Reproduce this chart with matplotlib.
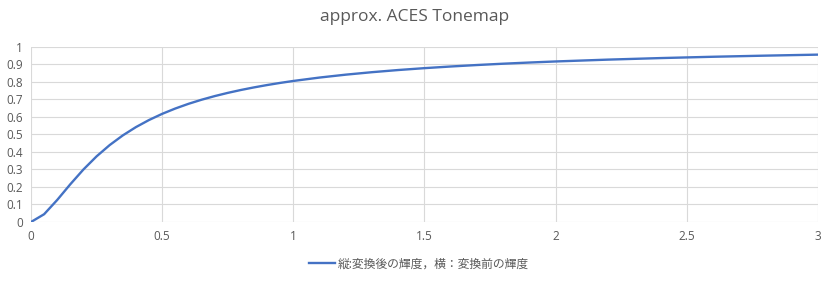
import matplotlib as mpl
mpl.use('Agg')
import matplotlib.pyplot as plt
import matplotlib.ticker as tick

# 入力輝度 (横) と変換後の輝度 (縦)、グラフから読み取り
x_in = [0.0, 0.05, 0.1, 0.15, 0.2, 0.25, 0.3, 0.35, 0.4, 0.45, 0.5,
        0.55, 0.6, 0.65, 0.7, 0.75, 0.8, 0.85, 0.9, 0.95, 1.0,
        1.1, 1.2, 1.3, 1.4, 1.5, 1.6, 1.7, 1.8, 1.9, 2.0,
        2.2, 2.4, 2.6, 2.8, 3.0]
y_out = [0.0, 0.0443, 0.1258, 0.2153, 0.2995, 0.3741, 0.4385, 0.4936, 0.5408, 0.5813, 0.6163,
         0.6467, 0.6733, 0.6967, 0.7174, 0.7358, 0.7523, 0.7671, 0.7805, 0.7927, 0.8038,
         0.8232, 0.8397, 0.8538, 0.8661, 0.8768, 0.8862, 0.8946, 0.9021, 0.9088, 0.9149,
         0.9254, 0.9342, 0.9417, 0.9481, 0.9538]
x_ticks = [0, 0.5, 1, 1.5, 2, 2.5, 3]
y_ticks = [0, 0.1, 0.2, 0.3, 0.4, 0.5, 0.6, 0.7, 0.8, 0.9, 1]
series_label = '縦:変換後の輝度，横：変換前の輝度'
title = 'approx. ACES Tonemap'

plt.rcParams['font.family'] = ['Open Sans', 'Noto Sans CJK JP', 'DejaVu Sans']
text_color = '#595959'
grid_color = '#d9d9d9'

fig = plt.figure(figsize=(8.29, 2.82), dpi=100)
ax1 = fig.add_axes([0.0374, 0.2128, 0.9493, 0.6222])

ax1.plot(x_in, y_out, color='#4472C4', linewidth=1.7, label=series_label, zorder=3)

ax1.set_xlim(0, 3)
ax1.set_ylim(0, 1)
ax1.set_xticks(x_ticks)
ax1.set_yticks(y_ticks)
ax1.xaxis.set_major_formatter(tick.FormatStrFormatter('%g'))
ax1.yaxis.set_major_formatter(tick.FormatStrFormatter('%g'))
ax1.grid(which='major', linewidth=0.8, linestyle='-', color=grid_color, zorder=0)
ax1.set_axisbelow(True)
for s in ax1.spines.values():
    s.set_visible(False)
ax1.tick_params(axis='both', length=0, labelsize=8.5, labelcolor=text_color)
ax1.tick_params(axis='y', pad=6)
ax1.tick_params(axis='x', pad=6)

fig.text(0.5, 1 - 17 / 282, title, ha='center', va='center', fontsize=12.5, color=text_color)

leg = fig.legend(loc='center', bbox_to_anchor=(0.505, 0.064), frameon=False,
                 handlelength=2.2, handletextpad=0.2,
                 prop={'family': ['Open Sans', 'Noto Sans CJK JP', 'DejaVu Sans'], 'size': 8.5})
for t in leg.get_texts():
    t.set_color(text_color)

plt.savefig('out.png', dpi=100)
